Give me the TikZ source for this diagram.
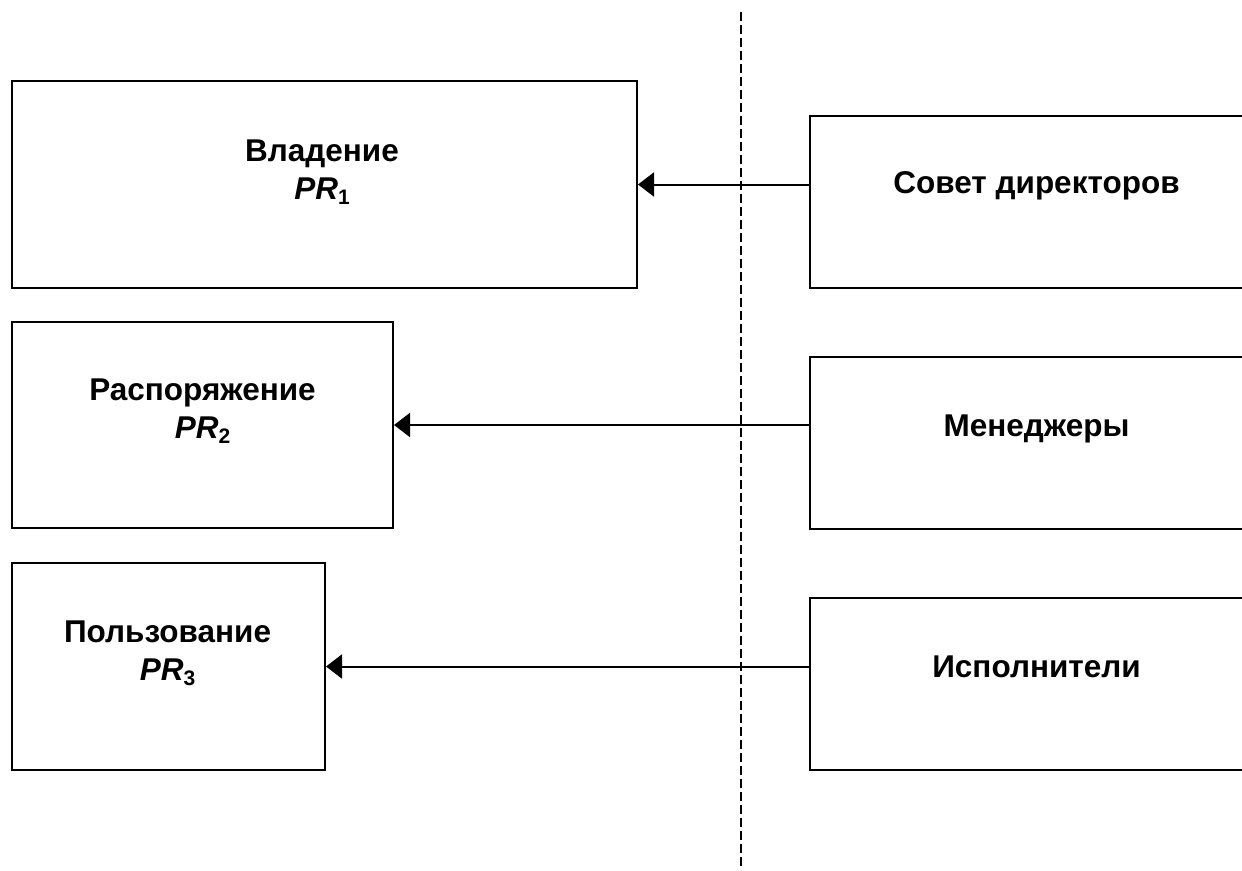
\documentclass[tikz,border=0pt]{standalone}
\usepackage{fontspec}
\setmainfont{Liberation Sans}
\usetikzlibrary{arrows.meta}
%Index of a right, lowered like a subscript
\newcommand{\prsub}[1]{\textit{PR}\raisebox{-5pt}{\fontsize{21}{21}\selectfont\bfseries #1}}
\begin{document}
\begin{tikzpicture}[x=1pt,y=-1pt,
     box/.style={draw,rectangle,line width=2pt,inner sep=0pt},
     txt/.style={anchor=base,align=center,inner sep=0pt,font=\fontsize{31.5}{38}\selectfont\bfseries},
     arr/.style={line width=2pt,-{Triangle[length=16pt,width=24pt]}}
     ]
%Size of the picture
\def \picw{1242}
\def \pich{870}
\useasboundingbox (0,0) rectangle (\picw,\pich);
\clip (0,0) rectangle (\picw,\pich);

%Position of the dashed border
\def \xsep{741}

%Left boxes: rights
\node (own) [box,minimum width=625pt,minimum height=207pt] at (324.5,184.5) {};
\node (disp)[box,minimum width=381pt,minimum height=206pt] at (202.5,425) {};
\node (use) [box,minimum width=313pt,minimum height=207pt] at (168.5,666.5) {};

%Texts, placed by the baseline of the last line
\node (ownT) [txt] at (322,199) {Владение\\\prsub{1}};
\node (dispT)[txt] at (202.5,438) {Распоряжение\\\prsub{2}};
\node (useT) [txt] at (167.5,680) {Пользование\\\prsub{3}};

%Right boxes: holders, cut by the edge
\node (board)[box,minimum width=450pt,minimum height=172pt] at (1035,202) {};
\node (mgr)  [box,minimum width=450pt,minimum height=172pt] at (1035,443) {};
\node (exec) [box,minimum width=450pt,minimum height=172pt] at (1035,684) {};

\node (boardT)[txt] at (1036.5,193) {Совет директоров};
\node (mgrT)  [txt] at (1036.5,436) {Менеджеры};
\node (execT) [txt] at (1036.5,677) {Исполнители};

%Dashed border
\coordinate (top) at (\xsep,12);
\coordinate (bot) at (\xsep,\pich);
\draw[line width=2pt,dash pattern=on 9pt off 4pt] (top) -- (bot);

%Arrows
\draw[arr] (board.west |- own.east) -- (own.east);
\draw[arr] (mgr.west |- disp.east) -- (disp.east);
\draw[arr] (exec.west |- use.east) -- (use.east);
\end{tikzpicture}
\end{document}
